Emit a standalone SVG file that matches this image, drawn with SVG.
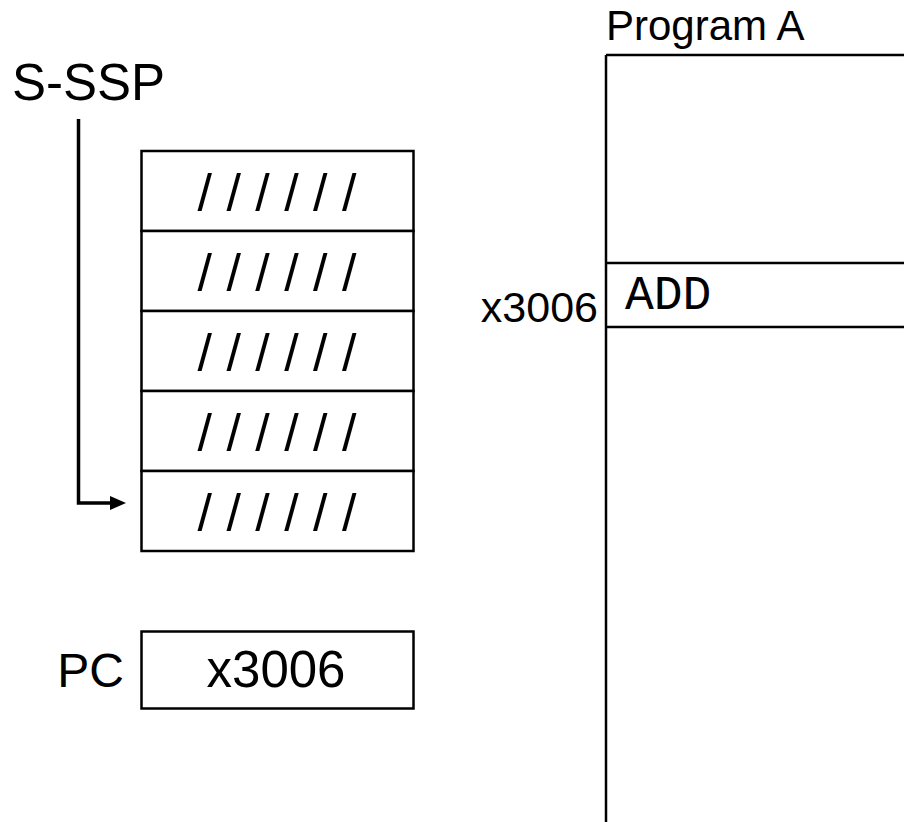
<svg xmlns="http://www.w3.org/2000/svg" width="904" height="822" viewBox="0 0 904 822">
<style>
.box{fill:#fff;stroke:#000;stroke-width:2.5}
.ln{stroke:#000;stroke-width:2.5;fill:none}
.t{font-family:"Liberation Sans",Arial,sans-serif;fill:#000}
.sl{font-family:"Liberation Sans",Arial,sans-serif;font-size:52px;text-anchor:middle;fill:#000}
.mono{font-family:"Courier New","Nimbus Mono PS",FreeMono,"Liberation Mono",monospace;fill:#000}
</style>
<rect width="904" height="822" fill="#fff"/>
<g id="sssp-label"><text class="t" x="12" y="100" font-size="51">S-SSP</text></g>
<g id="stack">
<rect class="box" x="141.5" y="151" width="272" height="80"/>
<rect class="box" x="141.5" y="231" width="272" height="80"/>
<rect class="box" x="141.5" y="311" width="272" height="80"/>
<rect class="box" x="141.5" y="391" width="272" height="80"/>
<rect class="box" x="141.5" y="471" width="272" height="80"/>
<text class="sl" x="277" y="211">/ / / / / /</text>
<text class="sl" x="277" y="291">/ / / / / /</text>
<text class="sl" x="277" y="371">/ / / / / /</text>
<text class="sl" x="277" y="451">/ / / / / /</text>
<text class="sl" x="277" y="531">/ / / / / /</text>
</g>
<g id="pc">
<text class="t" x="124" y="687" font-size="48" text-anchor="end">PC</text>
<rect class="box" x="141.5" y="631.5" width="272" height="77"/>
<text class="t" x="276" y="687" font-size="51" text-anchor="middle">x3006</text>
</g>
<g id="program-a">
<text class="t" x="606" y="40" font-size="42">Program A</text>
<path class="ln" d="M606,55 H906 M606,55 V824 M606,263 H906 M606,327 H906"/>
<text class="mono" x="625" y="309" font-size="48">ADD</text>
<text class="t" x="598" y="322" font-size="43" text-anchor="end">x3006</text>
</g>
<g id="connectors">
<path d="M78.5,119 V503 H110" fill="none" stroke="#000" stroke-width="3.5"/>
<polygon points="110,496 126,503 110,510" fill="#000"/>
</g>
</svg>
